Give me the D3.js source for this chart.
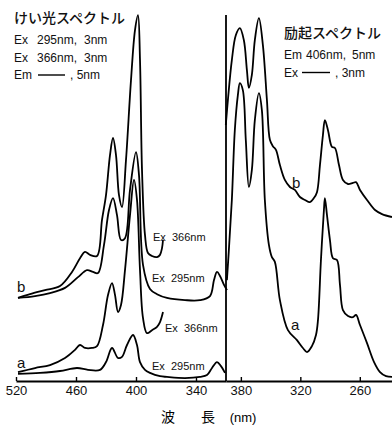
<!DOCTYPE html>
<html>
<head>
<meta charset="utf-8">
<script src="https://cdn.jsdelivr.net/npm/d3@7"></script>
<style>
  body { margin: 0; background: #fff; }
  svg { display: block; }
  .jp { font-family: "Noto Sans CJK JP", sans-serif; }
  .lat { font-family: "Liberation Sans", Arial, sans-serif; }
</style>
</head>
<body>
<svg id="chart" width="392" height="425"></svg>
<script>
// emission spectra: [wavelength nm, relative intensity]
const emA295 = [[518,1.9],[496,2.2],[476,2.7],[459,3.5],[448,3.0],[436,3.0],[430,5.1],[424,8.9],[418,6.2],[414,6.5],[409,9.7],[403,12.4],[399,9.7],[396,5.1],[391,3.0],[386,2.2],[376,1.3],[369,1.1],[351,0.8],[336,1.1],[329,1.6],[324,3.5],[319,5.1],[315,4.0],[311,2.2]];
const emA366 = [[518,2.4],[501,3.5],[486,4.3],[471,6.2],[461,8.4],[456,9.7],[451,8.9],[444,8.9],[439,9.4],[433,15.1],[428,23.2],[424,26.4],[421,23.2],[418,18.6],[415,20.5],[411,29.9],[406,44.7],[402,54.2],[399,48.8],[396,29.9],[393,17.0],[389,12.9],[384,13.7],[379,14.6],[376,15.9],[373,18.6]];
const emB295 = [[518,22.4],[501,22.9],[486,23.7],[471,25.1],[458,28.0],[449,29.9],[443,29.4],[438,29.1],[432,36.7],[427,46.1],[423,49.3],[419,44.7],[415,38.0],[411,38.5],[406,51.5],[400,61.7],[397,55.5],[393,31.3],[386,24.8],[379,23.4],[369,22.4],[351,21.8],[336,21.8],[326,22.9],[322,27.2],[319,29.4],[316,28.3],[312,25.9],[309,24.5]];
const emB366 = [[518,22.4],[506,23.4],[491,24.5],[476,25.6],[464,29.4],[456,33.1],[451,34.8],[446,34.0],[439,33.7],[434,43.4],[430,50.1],[426,60.9],[423,65.5],[420,60.9],[417,50.1],[414,46.9],[410,59.6],[405,81.1],[401,94.6],[398,98.6],[396,86.5],[394,56.9],[391,39.3],[388,34.5],[384,33.7],[379,33.4],[376,34.0],[374,35.8],[373,38.0]];

// excitation spectra (Em 406 nm)
const exA = [[394.1,27.2],[392.1,35.3],[389.1,48.8],[386.1,67.6],[383.0,77.1],[381.0,80.3],[378.0,78.4],[375.0,64.9],[371.9,52.3],[368.9,56.9],[365.9,70.3],[361.8,77.6],[358.8,73.0],[355.8,48.8],[351.7,36.7],[348.7,33.4],[345.7,32.1],[340.6,21.8],[332.5,13.7],[323.4,11.0],[317.4,8.9],[313.3,7.8],[308.3,9.4],[304.2,12.4],[302.2,16.4],[299.2,32.6],[296.2,46.1],[295.2,49.3],[293.1,44.7],[290.1,38.0],[287.1,33.1],[283.0,32.6],[280.0,25.9],[277.0,19.1],[271.9,17.5],[266.9,17.2],[263.8,17.8],[259.8,15.1],[252.7,10.2],[245.6,5.1],[239.6,2.4],[233.5,1.3],[227.5,1.1]];
const exB = [[395.2,69.0],[393.1,75.7],[389.1,86.5],[385.1,93.2],[381.0,95.1],[377.0,91.9],[373.9,83.8],[371.9,79.0],[368.9,82.5],[365.9,91.9],[361.8,97.8],[357.8,90.6],[353.7,75.7],[350.7,65.0],[347.7,63.3],[344.6,62.3],[340.6,58.2],[335.6,54.2],[330.5,52.3],[325.5,51.5],[320.4,49.6],[315.4,48.8],[310.3,48.2],[306.3,49.3],[303.2,50.9],[300.2,58.2],[297.2,66.3],[295.2,70.3],[292.1,67.6],[288.1,63.1],[285.1,62.8],[281.0,58.2],[277.0,54.2],[271.9,53.1],[266.9,53.4],[263.8,53.6],[259.8,51.5],[252.7,48.8],[244.6,46.1],[237.6,45.0],[227.5,44.2]];

const emTicks = [520, 460, 400, 340];
const exTicks = [380, 320, 260];

const svg = d3.select("#chart");
const baseY = 381;

const xEm = d3.scaleLinear().domain([520, 310]).range([16, 226]);
const xEx = d3.scaleLinear().domain([395, 227.5]).range([226, 392]);
const y = d3.scaleLinear().domain([0, 100]).range([baseY, 10]);

const lineEm = d3.line().x(d => xEm(d[0])).y(d => y(d[1])).curve(d3.curveCatmullRom.alpha(0.5));
const lineEx = d3.line().x(d => xEx(d[0])).y(d => y(d[1])).curve(d3.curveCatmullRom.alpha(0.5));

const curves = svg.append("g")
    .attr("fill", "none")
    .attr("stroke", "#000")
    .attr("stroke-width", 1.8)
    .attr("stroke-linejoin", "round");

[emA295, emA366, emB295, emB366].forEach(s => curves.append("path").attr("d", lineEm(s)));
[exA, exB].forEach(s => curves.append("path").attr("d", lineEx(s)));

// divider between the two panels
svg.append("line")
    .attr("x1", xEx(395)).attr("x2", xEx(395))
    .attr("y1", 15).attr("y2", baseY)
    .attr("stroke", "#000").attr("stroke-width", 1.8);

// axes
const styleAxis = g => {
    g.select(".domain").attr("stroke-width", 1.8);
    g.selectAll(".tick line").attr("stroke-width", 1.4);
    g.selectAll(".tick text")
        .attr("font-family", "Liberation Sans, Arial, sans-serif")
        .attr("font-size", 13)
        .attr("fill", "#111");
};

svg.append("g")
    .attr("transform", `translate(0,${baseY})`)
    .call(d3.axisBottom(xEm).tickValues(emTicks).tickSizeInner(-4).tickSizeOuter(0).tickPadding(5))
    .call(styleAxis);

svg.append("g")
    .attr("transform", `translate(0,${baseY})`)
    .call(d3.axisBottom(xEx).tickValues(exTicks).tickSizeInner(-4).tickSizeOuter(0).tickPadding(5))
    .call(styleAxis);

// axis title
const title = svg.append("g").attr("class", "jp").attr("font-size", 14).attr("text-anchor", "middle");
title.append("text").attr("x", 168).attr("y", 422).text("波");
title.append("text").attr("x", 208).attr("y", 422).text("長");
title.append("text").attr("class", "lat").attr("x", 243).attr("y", 422).attr("font-size", 13).text("(nm)");

// legends; off = [value x, line x1, line x2, unit x]
const legend = (x, y0, head, rows, off) => {
    const g = svg.append("g").attr("fill", "#111");
    g.append("text").attr("class", "jp").attr("x", x).attr("y", y0)
        .attr("font-size", 14).attr("font-weight", 500).text(head);
    rows.forEach((r, i) => {
        const ty = y0 + 21 + i * 17.5;
        g.append("text").attr("class", "lat").attr("x", x).attr("y", ty)
            .attr("font-size", 12).text(r[0]);
        if (r[1] === null) {
            g.append("line").attr("x1", x + off[1]).attr("x2", x + off[2])
                .attr("y1", ty - 4).attr("y2", ty - 4)
                .attr("stroke", "#000").attr("stroke-width", 1.4);
            g.append("text").attr("class", "lat").attr("x", x + off[2] + 5).attr("y", ty)
                .attr("font-size", 12).text(r[2]);
        } else {
            g.append("text").attr("class", "lat").attr("x", x + off[0]).attr("y", ty)
                .attr("font-size", 12).text(r[1]);
            g.append("text").attr("class", "lat").attr("x", x + off[3]).attr("y", ty)
                .attr("font-size", 12).text(r[2]);
        }
    });
};
legend(14, 23, "けい光スペクトル",
    [["Ex", "295nm,", "3nm"], ["Ex", "366nm,", "3nm"], ["Em", null, ",  5nm"]], [23, 24, 51, 70]);
legend(284, 38, "励起スペクトル",
    [["Em", "406nm,", "5nm"], ["Ex", null, ",  3nm"]], [22, 18, 46, 68]);

// curve labels
const labels = svg.append("g").attr("class", "lat").attr("fill", "#111");
[["b", 17, 292], ["a", 17, 368], ["b", 292, 188], ["a", 291, 330]].forEach(l =>
    labels.append("text").attr("x", l[1]).attr("y", l[2]).attr("font-size", 15).text(l[0]));
[["Ex  366nm", 153, 241], ["Ex  295nm", 152, 282], ["Ex  366nm", 165, 332], ["Ex  295nm", 152, 370]].forEach(l =>
    labels.append("text").attr("x", l[1]).attr("y", l[2]).attr("font-size", 11)
        .style("white-space", "pre").text(l[0]));
</script>
</body>
</html>
